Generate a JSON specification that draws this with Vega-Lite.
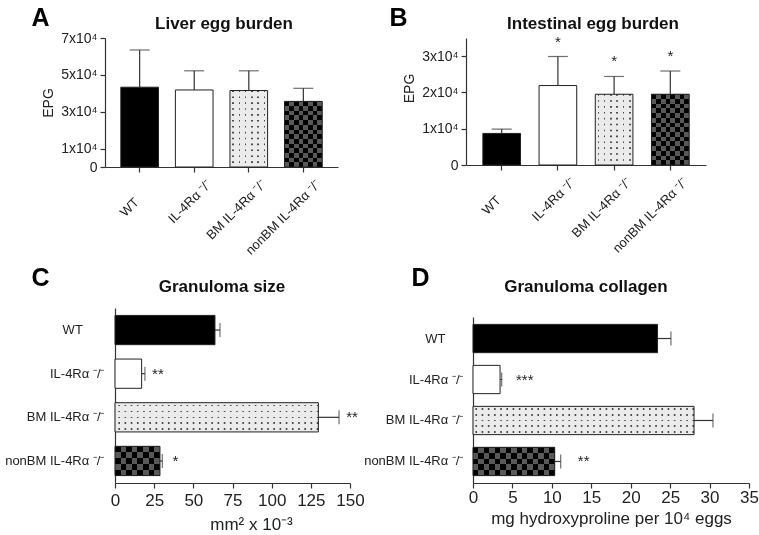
{
  "$schema": "https://vega.github.io/schema/vega-lite/v6.json",
  "bounds": "flush",
  "columns": 2,
  "spacing": {"row": 141, "column": 116},
  "padding": {"left": 4, "top": 5, "right": 0, "bottom": 6},
  "config": {
    "font": "Liberation Sans",
    "view": {"stroke": null},
    "axis": {"grid": false, "domainColor": "#333", "tickColor": "#333", "domainWidth": 1.2, "tickWidth": 1.2, "labelColor": "#222", "titleColor": "#222", "labelFont": "Liberation Sans", "titleFont": "Liberation Sans", "labelOverlap": false, "labelFlush": false},
    "title": {"font": "Liberation Sans", "fontSize": 17, "fontWeight": "bold", "color": "#111"}
  },
  "datasets": {
    "liver": [
      {"group": "WT", "mean": 43300, "upper": 63500},
      {"group": "IL-4Rα ⁻/⁻", "mean": 41800, "upper": 52200},
      {"group": "BM IL-4Rα ⁻/⁻", "mean": 41500, "upper": 52200},
      {"group": "nonBM IL-4Rα ⁻/⁻", "mean": 35600, "upper": 42700}
    ],
    "intestine": [
      {"group": "WT", "mean": 8700, "upper": 9900, "sig": null},
      {"group": "IL-4Rα ⁻/⁻", "mean": 21900, "upper": 29900, "sig": "*"},
      {"group": "BM IL-4Rα ⁻/⁻", "mean": 19500, "upper": 24400, "sig": "*"},
      {"group": "nonBM IL-4Rα ⁻/⁻", "mean": 19500, "upper": 25900, "sig": "*"}
    ],
    "size": [
      {"group": "WT", "mean": 63.8, "upper": 67.0, "sig": null},
      {"group": "IL-4Rα ⁻/⁻", "mean": 17.0, "upper": 19.1, "sig": "**"},
      {"group": "BM IL-4Rα ⁻/⁻", "mean": 129.8, "upper": 143.0, "sig": "**"},
      {"group": "nonBM IL-4Rα ⁻/⁻", "mean": 28.7, "upper": 30.2, "sig": "*"}
    ],
    "collagen": [
      {"group": "WT", "mean": 23.4, "upper": 25.1, "sig": null},
      {"group": "IL-4Rα ⁻/⁻", "mean": 3.43, "upper": 3.64, "sig": "***"},
      {"group": "BM IL-4Rα ⁻/⁻", "mean": 28.03, "upper": 30.43, "sig": null},
      {"group": "nonBM IL-4Rα ⁻/⁻", "mean": 10.36, "upper": 11.12, "sig": "**"}
    ]
  },
  "concat": [
    {
      "width": 233, "height": 129,
      "data": {"name": "liver"},
      "title": {"text": "Liver egg burden", "dx": 2.5, "offset": -28},
      "resolve": {"axis": {"y": "independent"}},
      "encoding": {
        "x": {"field": "group", "type": "nominal", "scale": {"domain": ["WT", "IL-4Rα ⁻/⁻", "BM IL-4Rα ⁻/⁻", "nonBM IL-4Rα ⁻/⁻"], "paddingInner": 0.31, "paddingOuter": 0.29},
          "axis": {"labelAngle": -45, "labelAlign": "right", "labelBaseline": "middle", "labelPadding": 10, "labelOffset": 15, "tickSize": 5, "labelFontSize": 13, "labelLimit": 300, "labelExpr": "datum.value === 'WT' ? 'WT\u00a0\u00a0\u00a0\u00a0\u00a0\u00a0\u00a0\u200b' : datum.value", "title": "A", "titleX": -74, "titleY": -142, "titleAngle": 0, "titleAlign": "left", "titleBaseline": "alphabetic", "titleFontSize": 25, "titleFontWeight": "bold", "titleColor": "#000"}}
      },
      "layer": [
        {
          "mark": {"type": "bar"},
          "encoding": {
            "y": {"field": "mean", "type": "quantitative", "scale": {"domain": [0, 70000], "nice": false},
              "axis": {"orient": "left", "values": [10000, 30000, 50000, 70000], "labelOverlap": false, "labelExpr": "format(datum.value / 10000, 'd') + 'x10⁴'", "labelFontSize": 14, "tickSize": 5, "labelPadding": 3, "title": "EPG", "titleFontSize": 14, "titleFontWeight": "normal", "titlePadding": 5}},
            "fill": {"condition": [{"test": "datum.group === 'WT'", "value": "#000000"}, {"test": "datum.group === 'IL-4Rα ⁻/⁻'", "value": "#ffffff"}, {"test": "datum.group === 'BM IL-4Rα ⁻/⁻'", "value": "#ebebeb"}], "value": "#000000"}
          }
        },
        {
          "transform": [{"filter": "datum.group === 'nonBM IL-4Rα ⁻/⁻'"}],
          "mark": {"type": "bar", "fill": {"gradient": "linear", "x1": 0, "y1": 0, "x2": 1, "y2": 0, "stops": [{"offset": 0, "color": "#595959"}, {"offset": 0.125, "color": "#595959"}, {"offset": 0.125, "color": "#000000"}, {"offset": 0.25, "color": "#000000"}, {"offset": 0.25, "color": "#595959"}, {"offset": 0.375, "color": "#595959"}, {"offset": 0.375, "color": "#000000"}, {"offset": 0.5, "color": "#000000"}, {"offset": 0.5, "color": "#595959"}, {"offset": 0.625, "color": "#595959"}, {"offset": 0.625, "color": "#000000"}, {"offset": 0.75, "color": "#000000"}, {"offset": 0.75, "color": "#595959"}, {"offset": 0.875, "color": "#595959"}, {"offset": 0.875, "color": "#000000"}, {"offset": 1, "color": "#000000"}]}},
          "encoding": {"y": {"field": "mean", "type": "quantitative", "axis": null}}
        },
        {
          "transform": [{"filter": "datum.group === 'nonBM IL-4Rα ⁻/⁻'"}],
          "mark": {"type": "bar", "blend": "difference", "fill": {"gradient": "linear", "x1": 0, "y1": 0, "x2": 0, "y2": 1, "stops": [{"offset": 0, "color": "#595959"}, {"offset": 0.0714, "color": "#595959"}, {"offset": 0.0714, "color": "#000000"}, {"offset": 0.1429, "color": "#000000"}, {"offset": 0.1429, "color": "#595959"}, {"offset": 0.2143, "color": "#595959"}, {"offset": 0.2143, "color": "#000000"}, {"offset": 0.2857, "color": "#000000"}, {"offset": 0.2857, "color": "#595959"}, {"offset": 0.3571, "color": "#595959"}, {"offset": 0.3571, "color": "#000000"}, {"offset": 0.4286, "color": "#000000"}, {"offset": 0.4286, "color": "#595959"}, {"offset": 0.5, "color": "#595959"}, {"offset": 0.5, "color": "#000000"}, {"offset": 0.5714, "color": "#000000"}, {"offset": 0.5714, "color": "#595959"}, {"offset": 0.6429, "color": "#595959"}, {"offset": 0.6429, "color": "#000000"}, {"offset": 0.7143, "color": "#000000"}, {"offset": 0.7143, "color": "#595959"}, {"offset": 0.7857, "color": "#595959"}, {"offset": 0.7857, "color": "#000000"}, {"offset": 0.8571, "color": "#000000"}, {"offset": 0.8571, "color": "#595959"}, {"offset": 0.9286, "color": "#595959"}, {"offset": 0.9286, "color": "#000000"}, {"offset": 1, "color": "#000000"}]}},
          "encoding": {"y": {"field": "mean", "type": "quantitative", "axis": null}}
        },
        {
          "transform": [{"filter": "datum.group === 'BM IL-4Rα ⁻/⁻'"}],
          "mark": {"type": "rule", "stroke": "#4a4a4a", "strokeWidth": 36, "strokeDash": [1.6, 4.3]},
          "encoding": {"y": {"field": "mean", "type": "quantitative", "axis": null}, "y2": {"datum": 0}}
        },
        {
          "transform": [{"filter": "datum.group === 'BM IL-4Rα ⁻/⁻'"}],
          "mark": {"type": "bar", "fill": {"gradient": "linear", "x1": 0, "y1": 0, "x2": 1, "y2": 0, "stops": [{"offset": 0, "color": "#ebebeb"}, {"offset": 0.0625, "color": "#ebebeb"}, {"offset": 0.0625, "color": "rgba(235,235,235,0)"}, {"offset": 0.1042, "color": "rgba(235,235,235,0)"}, {"offset": 0.1042, "color": "#ebebeb"}, {"offset": 0.2292, "color": "#ebebeb"}, {"offset": 0.2292, "color": "rgba(235,235,235,0)"}, {"offset": 0.2708, "color": "rgba(235,235,235,0)"}, {"offset": 0.2708, "color": "#ebebeb"}, {"offset": 0.3958, "color": "#ebebeb"}, {"offset": 0.3958, "color": "rgba(235,235,235,0)"}, {"offset": 0.4375, "color": "rgba(235,235,235,0)"}, {"offset": 0.4375, "color": "#ebebeb"}, {"offset": 0.5625, "color": "#ebebeb"}, {"offset": 0.5625, "color": "rgba(235,235,235,0)"}, {"offset": 0.6042, "color": "rgba(235,235,235,0)"}, {"offset": 0.6042, "color": "#ebebeb"}, {"offset": 0.7292, "color": "#ebebeb"}, {"offset": 0.7292, "color": "rgba(235,235,235,0)"}, {"offset": 0.7708, "color": "rgba(235,235,235,0)"}, {"offset": 0.7708, "color": "#ebebeb"}, {"offset": 0.8958, "color": "#ebebeb"}, {"offset": 0.8958, "color": "rgba(235,235,235,0)"}, {"offset": 0.9375, "color": "rgba(235,235,235,0)"}, {"offset": 0.9375, "color": "#ebebeb"}, {"offset": 1, "color": "#ebebeb"}]}},
          "encoding": {"y": {"field": "mean", "type": "quantitative", "axis": null}}
        },
        {
          "mark": {"type": "bar", "fill": "transparent", "stroke": "#222", "strokeWidth": 1},
          "encoding": {"y": {"field": "mean", "type": "quantitative",
            "axis": {"orient": "left", "values": [0], "domain": false, "labelOverlap": false, "labelFontSize": 14, "tickSize": 5, "labelPadding": 3, "title": null}}}
        },
        {
          "mark": {"type": "rule", "stroke": "#333", "strokeWidth": 1.2},
          "encoding": {"y": {"field": "mean", "type": "quantitative", "axis": null}, "y2": {"field": "upper"}}
        },
        {
          "mark": {"type": "tick", "color": "#333", "size": 20, "thickness": 1.2},
          "encoding": {"y": {"field": "upper", "type": "quantitative", "axis": null}}
        }
      ]
    },
    {
      "width": 240, "height": 127,
      "data": {"name": "intestine"},
      "title": {"text": "Intestinal egg burden", "dx": 7, "offset": -28},
      "encoding": {
        "x": {"field": "group", "type": "nominal", "scale": {"domain": ["WT", "IL-4Rα ⁻/⁻", "BM IL-4Rα ⁻/⁻", "nonBM IL-4Rα ⁻/⁻"], "paddingInner": 0.33, "paddingOuter": 0.3},
          "axis": {"labelAngle": -45, "labelAlign": "right", "labelBaseline": "middle", "labelPadding": 10, "labelOffset": 15, "tickSize": 5, "labelFontSize": 13, "labelLimit": 300, "labelExpr": "datum.value === 'WT' ? 'WT\u00a0\u00a0\u00a0\u00a0\u00a0\u00a0\u00a0\u200b' : datum.value", "title": "B", "titleX": -77, "titleY": -140, "titleAngle": 0, "titleAlign": "left", "titleBaseline": "alphabetic", "titleFontSize": 25, "titleFontWeight": "bold", "titleColor": "#000"}}
      },
      "layer": [
        {
          "mark": {"type": "bar"},
          "encoding": {
            "y": {"field": "mean", "type": "quantitative", "scale": {"domain": [0, 35000], "nice": false},
              "axis": {"values": [0, 10000, 20000, 30000], "labelOverlap": false, "labelExpr": "datum.value === 0 ? '0' : format(datum.value / 10000, 'd') + 'x10⁴'", "labelFontSize": 14, "tickSize": 5, "labelPadding": 3, "title": "EPG", "titleFontSize": 14, "titleFontWeight": "normal", "titlePadding": 5, "titleY": 50}},
            "fill": {"condition": [{"test": "datum.group === 'WT'", "value": "#000000"}, {"test": "datum.group === 'IL-4Rα ⁻/⁻'", "value": "#ffffff"}, {"test": "datum.group === 'BM IL-4Rα ⁻/⁻'", "value": "#ebebeb"}], "value": "#000000"}
          }
        },
        {
          "transform": [{"filter": "datum.group === 'nonBM IL-4Rα ⁻/⁻'"}],
          "mark": {"type": "bar", "fill": {"gradient": "linear", "x1": 0, "y1": 0, "x2": 1, "y2": 0, "stops": [{"offset": 0, "color": "#595959"}, {"offset": 0.125, "color": "#595959"}, {"offset": 0.125, "color": "#000000"}, {"offset": 0.25, "color": "#000000"}, {"offset": 0.25, "color": "#595959"}, {"offset": 0.375, "color": "#595959"}, {"offset": 0.375, "color": "#000000"}, {"offset": 0.5, "color": "#000000"}, {"offset": 0.5, "color": "#595959"}, {"offset": 0.625, "color": "#595959"}, {"offset": 0.625, "color": "#000000"}, {"offset": 0.75, "color": "#000000"}, {"offset": 0.75, "color": "#595959"}, {"offset": 0.875, "color": "#595959"}, {"offset": 0.875, "color": "#000000"}, {"offset": 1, "color": "#000000"}]}},
          "encoding": {"y": {"field": "mean", "type": "quantitative"}}
        },
        {
          "transform": [{"filter": "datum.group === 'nonBM IL-4Rα ⁻/⁻'"}],
          "mark": {"type": "bar", "blend": "difference", "fill": {"gradient": "linear", "x1": 0, "y1": 0, "x2": 0, "y2": 1, "stops": [{"offset": 0, "color": "#595959"}, {"offset": 0.0667, "color": "#595959"}, {"offset": 0.0667, "color": "#000000"}, {"offset": 0.1333, "color": "#000000"}, {"offset": 0.1333, "color": "#595959"}, {"offset": 0.2, "color": "#595959"}, {"offset": 0.2, "color": "#000000"}, {"offset": 0.2667, "color": "#000000"}, {"offset": 0.2667, "color": "#595959"}, {"offset": 0.3333, "color": "#595959"}, {"offset": 0.3333, "color": "#000000"}, {"offset": 0.4, "color": "#000000"}, {"offset": 0.4, "color": "#595959"}, {"offset": 0.4667, "color": "#595959"}, {"offset": 0.4667, "color": "#000000"}, {"offset": 0.5333, "color": "#000000"}, {"offset": 0.5333, "color": "#595959"}, {"offset": 0.6, "color": "#595959"}, {"offset": 0.6, "color": "#000000"}, {"offset": 0.6667, "color": "#000000"}, {"offset": 0.6667, "color": "#595959"}, {"offset": 0.7333, "color": "#595959"}, {"offset": 0.7333, "color": "#000000"}, {"offset": 0.8, "color": "#000000"}, {"offset": 0.8, "color": "#595959"}, {"offset": 0.8667, "color": "#595959"}, {"offset": 0.8667, "color": "#000000"}, {"offset": 0.9333, "color": "#000000"}, {"offset": 0.9333, "color": "#595959"}, {"offset": 1, "color": "#595959"}]}},
          "encoding": {"y": {"field": "mean", "type": "quantitative"}}
        },
        {
          "transform": [{"filter": "datum.group === 'BM IL-4Rα ⁻/⁻'"}],
          "mark": {"type": "rule", "stroke": "#4a4a4a", "strokeWidth": 36, "strokeDash": [1.6, 4.3]},
          "encoding": {"y": {"field": "mean", "type": "quantitative"}, "y2": {"datum": 0}}
        },
        {
          "transform": [{"filter": "datum.group === 'BM IL-4Rα ⁻/⁻'"}],
          "mark": {"type": "bar", "fill": {"gradient": "linear", "x1": 0, "y1": 0, "x2": 1, "y2": 0, "stops": [{"offset": 0, "color": "#ebebeb"}, {"offset": 0.0625, "color": "#ebebeb"}, {"offset": 0.0625, "color": "rgba(235,235,235,0)"}, {"offset": 0.1042, "color": "rgba(235,235,235,0)"}, {"offset": 0.1042, "color": "#ebebeb"}, {"offset": 0.2292, "color": "#ebebeb"}, {"offset": 0.2292, "color": "rgba(235,235,235,0)"}, {"offset": 0.2708, "color": "rgba(235,235,235,0)"}, {"offset": 0.2708, "color": "#ebebeb"}, {"offset": 0.3958, "color": "#ebebeb"}, {"offset": 0.3958, "color": "rgba(235,235,235,0)"}, {"offset": 0.4375, "color": "rgba(235,235,235,0)"}, {"offset": 0.4375, "color": "#ebebeb"}, {"offset": 0.5625, "color": "#ebebeb"}, {"offset": 0.5625, "color": "rgba(235,235,235,0)"}, {"offset": 0.6042, "color": "rgba(235,235,235,0)"}, {"offset": 0.6042, "color": "#ebebeb"}, {"offset": 0.7292, "color": "#ebebeb"}, {"offset": 0.7292, "color": "rgba(235,235,235,0)"}, {"offset": 0.7708, "color": "rgba(235,235,235,0)"}, {"offset": 0.7708, "color": "#ebebeb"}, {"offset": 0.8958, "color": "#ebebeb"}, {"offset": 0.8958, "color": "rgba(235,235,235,0)"}, {"offset": 0.9375, "color": "rgba(235,235,235,0)"}, {"offset": 0.9375, "color": "#ebebeb"}, {"offset": 1, "color": "#ebebeb"}]}},
          "encoding": {"y": {"field": "mean", "type": "quantitative"}}
        },
        {
          "mark": {"type": "bar", "fill": "transparent", "stroke": "#222", "strokeWidth": 1},
          "encoding": {"y": {"field": "mean", "type": "quantitative"}}
        },
        {
          "mark": {"type": "rule", "stroke": "#333", "strokeWidth": 1.2},
          "encoding": {"y": {"field": "mean", "type": "quantitative"}, "y2": {"field": "upper"}}
        },
        {
          "mark": {"type": "tick", "color": "#333", "size": 20, "thickness": 1.2},
          "encoding": {"y": {"field": "upper", "type": "quantitative"}}
        },
        {
          "transform": [{"filter": "datum.sig != null"}],
          "mark": {"type": "text", "dy": -10, "align": "center", "baseline": "alphabetic", "fontSize": 15, "color": "#222"},
          "encoding": {"y": {"field": "upper", "type": "quantitative"}, "text": {"field": "sig"}}
        }
      ]
    },
    {
      "width": 245, "height": 175,
      "data": {"name": "size"},
      "title": {"text": "Granuloma size", "dx": -5.5, "offset": -31},
      "encoding": {
        "y": {"field": "group", "type": "nominal", "scale": {"domain": ["WT", "IL-4Rα ⁻/⁻", "BM IL-4Rα ⁻/⁻", "nonBM IL-4Rα ⁻/⁻"], "paddingInner": 0.33, "paddingOuter": 0.17},
          "axis": {"offset": -10, "ticks": false, "tickSize": 0, "labelFontSize": 13, "labelPadding": 11, "labelLimit": 300, "labelExpr": "datum.value === 'WT' ? 'WT\u00a0\u00a0\u00a0\u00a0\u00a0\u00a0\u200b' : datum.value", "title": "C", "titleX": -84, "titleY": -23, "titleAngle": 0, "titleAlign": "left", "titleBaseline": "alphabetic", "titleFontSize": 25, "titleFontWeight": "bold", "titleColor": "#000"}}
      },
      "layer": [
        {
          "mark": {"type": "bar"},
          "encoding": {
            "x": {"field": "mean", "type": "quantitative", "scale": {"domain": [0, 150], "range": [10, 245], "nice": false},
              "axis": {"values": [0, 25, 50, 75, 100, 125, 150], "labelOverlap": false, "tickSize": 5, "labelFontSize": 17, "labelPadding": 4, "title": "mm² x 10⁻³", "titleFontSize": 17, "titleFontWeight": "normal", "titlePadding": 8, "titleX": 146}},
            "fill": {"condition": [{"test": "datum.group === 'WT'", "value": "#000000"}, {"test": "datum.group === 'IL-4Rα ⁻/⁻'", "value": "#ffffff"}, {"test": "datum.group === 'BM IL-4Rα ⁻/⁻'", "value": "#ebebeb"}], "value": "#000000"}
          }
        },
        {
          "transform": [{"filter": "datum.group === 'nonBM IL-4Rα ⁻/⁻'"}],
          "mark": {"type": "bar", "fill": {"gradient": "linear", "x1": 0, "y1": 0, "x2": 1, "y2": 0, "stops": [{"offset": 0, "color": "#595959"}, {"offset": 0.125, "color": "#595959"}, {"offset": 0.125, "color": "#000000"}, {"offset": 0.25, "color": "#000000"}, {"offset": 0.25, "color": "#595959"}, {"offset": 0.375, "color": "#595959"}, {"offset": 0.375, "color": "#000000"}, {"offset": 0.5, "color": "#000000"}, {"offset": 0.5, "color": "#595959"}, {"offset": 0.625, "color": "#595959"}, {"offset": 0.625, "color": "#000000"}, {"offset": 0.75, "color": "#000000"}, {"offset": 0.75, "color": "#595959"}, {"offset": 0.875, "color": "#595959"}, {"offset": 0.875, "color": "#000000"}, {"offset": 1, "color": "#000000"}]}},
          "encoding": {"x": {"field": "mean", "type": "quantitative"}}
        },
        {
          "transform": [{"filter": "datum.group === 'nonBM IL-4Rα ⁻/⁻'"}],
          "mark": {"type": "bar", "blend": "difference", "fill": {"gradient": "linear", "x1": 0, "y1": 0, "x2": 0, "y2": 1, "stops": [{"offset": 0, "color": "#595959"}, {"offset": 0.2, "color": "#595959"}, {"offset": 0.2, "color": "#000000"}, {"offset": 0.4, "color": "#000000"}, {"offset": 0.4, "color": "#595959"}, {"offset": 0.6, "color": "#595959"}, {"offset": 0.6, "color": "#000000"}, {"offset": 0.8, "color": "#000000"}, {"offset": 0.8, "color": "#595959"}, {"offset": 1, "color": "#595959"}]}},
          "encoding": {"x": {"field": "mean", "type": "quantitative"}}
        },
        {
          "transform": [{"filter": "datum.group === 'BM IL-4Rα ⁻/⁻'"}],
          "mark": {"type": "rule", "stroke": "#4a4a4a", "strokeWidth": 28, "strokeDash": [1.6, 4.6]},
          "encoding": {"x": {"field": "mean", "type": "quantitative"}, "x2": {"datum": 0}}
        },
        {
          "transform": [{"filter": "datum.group === 'BM IL-4Rα ⁻/⁻'"}],
          "mark": {"type": "bar", "fill": {"gradient": "linear", "x1": 0, "y1": 0, "x2": 0, "y2": 1, "stops": [{"offset": 0, "color": "#ebebeb"}, {"offset": 0.075, "color": "#ebebeb"}, {"offset": 0.075, "color": "rgba(235,235,235,0)"}, {"offset": 0.125, "color": "rgba(235,235,235,0)"}, {"offset": 0.125, "color": "#ebebeb"}, {"offset": 0.275, "color": "#ebebeb"}, {"offset": 0.275, "color": "rgba(235,235,235,0)"}, {"offset": 0.325, "color": "rgba(235,235,235,0)"}, {"offset": 0.325, "color": "#ebebeb"}, {"offset": 0.475, "color": "#ebebeb"}, {"offset": 0.475, "color": "rgba(235,235,235,0)"}, {"offset": 0.525, "color": "rgba(235,235,235,0)"}, {"offset": 0.525, "color": "#ebebeb"}, {"offset": 0.675, "color": "#ebebeb"}, {"offset": 0.675, "color": "rgba(235,235,235,0)"}, {"offset": 0.725, "color": "rgba(235,235,235,0)"}, {"offset": 0.725, "color": "#ebebeb"}, {"offset": 0.875, "color": "#ebebeb"}, {"offset": 0.875, "color": "rgba(235,235,235,0)"}, {"offset": 0.925, "color": "rgba(235,235,235,0)"}, {"offset": 0.925, "color": "#ebebeb"}, {"offset": 1, "color": "#ebebeb"}]}},
          "encoding": {"x": {"field": "mean", "type": "quantitative"}}
        },
        {
          "mark": {"type": "bar", "fill": "transparent", "stroke": "#222", "strokeWidth": 1},
          "encoding": {"x": {"field": "mean", "type": "quantitative"}}
        },
        {
          "mark": {"type": "rule", "stroke": "#333", "strokeWidth": 1.2},
          "encoding": {"x": {"field": "mean", "type": "quantitative"}, "x2": {"field": "upper"}}
        },
        {
          "mark": {"type": "tick", "color": "#333", "size": 14, "thickness": 1.2},
          "encoding": {"x": {"field": "upper", "type": "quantitative"}}
        },
        {
          "transform": [{"filter": "datum.sig != null"}],
          "mark": {"type": "text", "dx": 13, "align": "center", "baseline": "middle", "fontSize": 15, "color": "#222"},
          "encoding": {"x": {"field": "upper", "type": "quantitative"}, "text": {"field": "sig"}}
        }
      ]
    },
    {
      "width": 283, "height": 175,
      "data": {"name": "collagen"},
      "title": {"text": "Granuloma collagen", "dx": -21.5, "offset": -31},
      "encoding": {
        "y": {"field": "group", "type": "nominal", "scale": {"domain": ["WT", "IL-4Rα ⁻/⁻", "BM IL-4Rα ⁻/⁻", "nonBM IL-4Rα ⁻/⁻"], "range": [9, 175], "paddingInner": 0.31, "paddingOuter": 0.18},
          "axis": {"offset": -7, "ticks": false, "tickSize": 0, "labelFontSize": 13, "labelPadding": 10, "labelLimit": 300, "labelExpr": "datum.value === 'WT' ? 'WT\u00a0\u00a0\u00a0\u00a0\u00a0\u200b' : datum.value", "title": "D", "titleX": -62, "titleY": -23, "titleAngle": 0, "titleAlign": "left", "titleBaseline": "alphabetic", "titleFontSize": 25, "titleFontWeight": "bold", "titleColor": "#000"}}
      },
      "layer": [
        {
          "mark": {"type": "bar"},
          "encoding": {
            "x": {"field": "mean", "type": "quantitative", "scale": {"domain": [0, 35], "range": [7, 283], "nice": false},
              "axis": {"values": [0, 5, 10, 15, 20, 25, 30, 35], "labelOverlap": false, "tickSize": 5, "labelFontSize": 17, "labelPadding": 1, "title": "mg hydroxyproline per 10⁴ eggs", "titleFontSize": 17, "titleFontWeight": "normal", "titlePadding": 5}},
            "fill": {"condition": [{"test": "datum.group === 'WT'", "value": "#000000"}, {"test": "datum.group === 'IL-4Rα ⁻/⁻'", "value": "#ffffff"}, {"test": "datum.group === 'BM IL-4Rα ⁻/⁻'", "value": "#ebebeb"}], "value": "#000000"}
          }
        },
        {
          "transform": [{"filter": "datum.group === 'nonBM IL-4Rα ⁻/⁻'"}],
          "mark": {"type": "bar", "fill": {"gradient": "linear", "x1": 0, "y1": 0, "x2": 1, "y2": 0, "stops": [{"offset": 0, "color": "#595959"}, {"offset": 0.0667, "color": "#595959"}, {"offset": 0.0667, "color": "#000000"}, {"offset": 0.1333, "color": "#000000"}, {"offset": 0.1333, "color": "#595959"}, {"offset": 0.2, "color": "#595959"}, {"offset": 0.2, "color": "#000000"}, {"offset": 0.2667, "color": "#000000"}, {"offset": 0.2667, "color": "#595959"}, {"offset": 0.3333, "color": "#595959"}, {"offset": 0.3333, "color": "#000000"}, {"offset": 0.4, "color": "#000000"}, {"offset": 0.4, "color": "#595959"}, {"offset": 0.4667, "color": "#595959"}, {"offset": 0.4667, "color": "#000000"}, {"offset": 0.5333, "color": "#000000"}, {"offset": 0.5333, "color": "#595959"}, {"offset": 0.6, "color": "#595959"}, {"offset": 0.6, "color": "#000000"}, {"offset": 0.6667, "color": "#000000"}, {"offset": 0.6667, "color": "#595959"}, {"offset": 0.7333, "color": "#595959"}, {"offset": 0.7333, "color": "#000000"}, {"offset": 0.8, "color": "#000000"}, {"offset": 0.8, "color": "#595959"}, {"offset": 0.8667, "color": "#595959"}, {"offset": 0.8667, "color": "#000000"}, {"offset": 0.9333, "color": "#000000"}, {"offset": 0.9333, "color": "#595959"}, {"offset": 1, "color": "#595959"}]}},
          "encoding": {"x": {"field": "mean", "type": "quantitative"}}
        },
        {
          "transform": [{"filter": "datum.group === 'nonBM IL-4Rα ⁻/⁻'"}],
          "mark": {"type": "bar", "blend": "difference", "fill": {"gradient": "linear", "x1": 0, "y1": 0, "x2": 0, "y2": 1, "stops": [{"offset": 0, "color": "#595959"}, {"offset": 0.2, "color": "#595959"}, {"offset": 0.2, "color": "#000000"}, {"offset": 0.4, "color": "#000000"}, {"offset": 0.4, "color": "#595959"}, {"offset": 0.6, "color": "#595959"}, {"offset": 0.6, "color": "#000000"}, {"offset": 0.8, "color": "#000000"}, {"offset": 0.8, "color": "#595959"}, {"offset": 1, "color": "#595959"}]}},
          "encoding": {"x": {"field": "mean", "type": "quantitative"}}
        },
        {
          "transform": [{"filter": "datum.group === 'BM IL-4Rα ⁻/⁻'"}],
          "mark": {"type": "rule", "stroke": "#4a4a4a", "strokeWidth": 27, "strokeDash": [1.6, 4.6]},
          "encoding": {"x": {"field": "mean", "type": "quantitative"}, "x2": {"datum": 0}}
        },
        {
          "transform": [{"filter": "datum.group === 'BM IL-4Rα ⁻/⁻'"}],
          "mark": {"type": "bar", "fill": {"gradient": "linear", "x1": 0, "y1": 0, "x2": 0, "y2": 1, "stops": [{"offset": 0, "color": "#ebebeb"}, {"offset": 0.075, "color": "#ebebeb"}, {"offset": 0.075, "color": "rgba(235,235,235,0)"}, {"offset": 0.125, "color": "rgba(235,235,235,0)"}, {"offset": 0.125, "color": "#ebebeb"}, {"offset": 0.275, "color": "#ebebeb"}, {"offset": 0.275, "color": "rgba(235,235,235,0)"}, {"offset": 0.325, "color": "rgba(235,235,235,0)"}, {"offset": 0.325, "color": "#ebebeb"}, {"offset": 0.475, "color": "#ebebeb"}, {"offset": 0.475, "color": "rgba(235,235,235,0)"}, {"offset": 0.525, "color": "rgba(235,235,235,0)"}, {"offset": 0.525, "color": "#ebebeb"}, {"offset": 0.675, "color": "#ebebeb"}, {"offset": 0.675, "color": "rgba(235,235,235,0)"}, {"offset": 0.725, "color": "rgba(235,235,235,0)"}, {"offset": 0.725, "color": "#ebebeb"}, {"offset": 0.875, "color": "#ebebeb"}, {"offset": 0.875, "color": "rgba(235,235,235,0)"}, {"offset": 0.925, "color": "rgba(235,235,235,0)"}, {"offset": 0.925, "color": "#ebebeb"}, {"offset": 1, "color": "#ebebeb"}]}},
          "encoding": {"x": {"field": "mean", "type": "quantitative"}}
        },
        {
          "mark": {"type": "bar", "fill": "transparent", "stroke": "#222", "strokeWidth": 1},
          "encoding": {"x": {"field": "mean", "type": "quantitative"}}
        },
        {
          "mark": {"type": "rule", "stroke": "#333", "strokeWidth": 1.2},
          "encoding": {"x": {"field": "mean", "type": "quantitative"}, "x2": {"field": "upper"}}
        },
        {
          "mark": {"type": "tick", "color": "#333", "size": 14, "thickness": 1.2},
          "encoding": {"x": {"field": "upper", "type": "quantitative"}}
        },
        {
          "transform": [{"filter": "datum.sig != null"}],
          "mark": {"type": "text", "dx": 23, "align": "center", "baseline": "middle", "fontSize": 15, "color": "#222"},
          "encoding": {"x": {"field": "upper", "type": "quantitative"}, "text": {"field": "sig"}}
        }
      ]
    }
  ]
}
